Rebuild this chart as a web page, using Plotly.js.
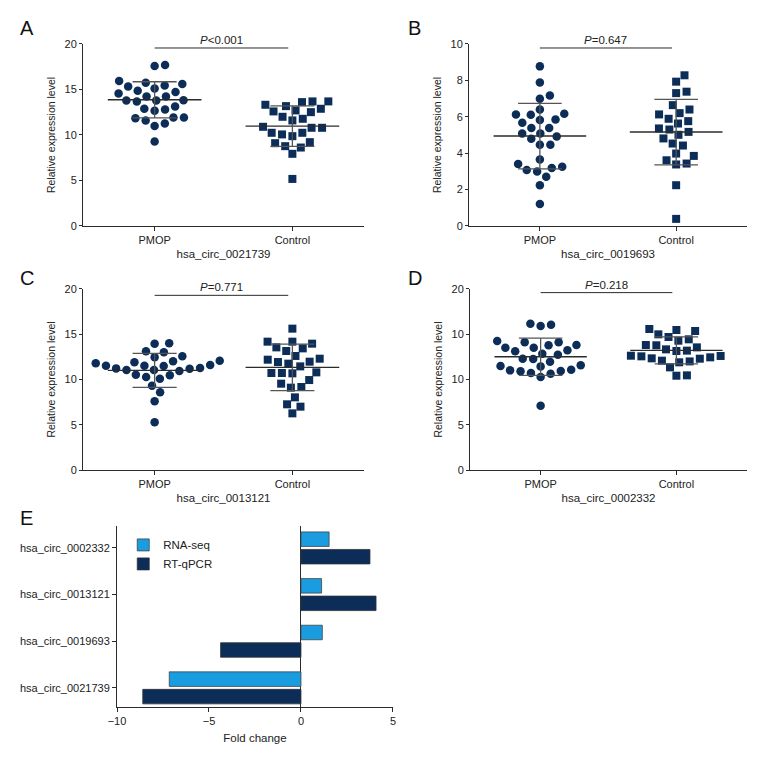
<!DOCTYPE html>
<html>
<head>
<meta charset="utf-8">
<script src="https://cdn.plot.ly/plotly-3.0.1.min.js"></script>
<style>html,body{margin:0;padding:0;background:#fff;}#chart{width:780px;height:780px;}</style>
</head>
<body>
<div id="chart"></div>
<script>
// ---------------- DATA ----------------
const groups = ['PMOP', 'Control'];
const circNames = ['hsa_circ_0021739', 'hsa_circ_0019693', 'hsa_circ_0013121', 'hsa_circ_0002332'];
const pValues = ['<i>P</i>&lt;0.001', '<i>P</i>=0.647', '<i>P</i>=0.771', '<i>P</i>=0.218'];

// Panel A: hsa_circ_0021739
const aPMOP = [17.69, 17.58, 15.74, 15.45, 15.12, 15.93, 15.6, 15.34, 14.86, 14.57, 14.72, 14.24, 14.24, 13.8,
  13.69, 13.8, 13.83, 12.88, 12.81, 13.14, 12.66, 11.93, 11.93, 11.85, 11.6, 11.27, 11.0, 9.28];
const aControl = [13.69, 13.69, 13.17, 12.7, 12.51, 12.59, 12.88, 13.32, 13.61, 12.0, 11.6, 11.78, 10.79, 10.79,
  10.9, 10.24, 10.06, 9.87, 10.24, 9.1, 9.21, 8.62, 8.77, 7.93, 5.17];
// Panel B: hsa_circ_0019693
const bPMOP = [8.77, 7.89, 7.17, 6.99, 6.4, 6.13, 6.17, 6.11, 5.85, 5.82, 5.67, 5.38, 5.39, 5.08, 5.08, 4.92,
  4.79, 4.46, 4.46, 3.65, 3.41, 3.19, 3.25, 3.08, 2.99, 2.7, 2.24, 1.21];
const bControl = [8.28, 7.93, 7.38, 7.3, 6.64, 6.4, 6.13, 6.2, 5.76, 5.63, 5.89, 5.36, 5.3, 5.17, 5.01, 4.81,
  4.53, 4.42, 3.98, 3.85, 3.61, 3.38, 3.43, 2.24, 0.39];
// Panel C: hsa_circ_0013121
const cPMOP = [14.0, 13.96, 13.0, 13.11, 12.45, 12.56, 12.01, 11.9, 12.08, 11.79, 11.6, 11.49, 11.53, 11.53,
  11.27, 11.2, 11.05, 10.94, 11.05, 11.23, 10.53, 10.28, 10.09, 10.46, 9.32, 8.58, 7.59, 5.27];
const cControl = [15.62, 14.18, 13.96, 14.18, 13.55, 13.44, 13.15, 12.6, 12.3, 12.19, 11.75, 11.93, 11.97, 11.45,
  10.72, 10.72, 10.79, 10.68, 9.94, 9.54, 9.1, 9.17, 8.03, 7.26, 7.0, 6.26];
// Panel D: hsa_circ_0002332
const dPMOP = [16.06, 15.91, 16.17, 14.11, 13.78, 13.52, 14.11, 13.81, 13.52, 14.25, 12.74, 13.11, 12.85, 13.22,
  12.27, 12.3, 11.97, 11.49, 11.45, 11.57, 11.01, 10.94, 11.09, 10.9, 10.64, 10.72, 10.28, 7.11];
const dControl = [15.58, 15.36, 15.47, 14.99, 14.7, 14.44, 14.29, 13.78, 13.81, 13.33, 13.15, 13.19, 13.55,
  12.56, 12.45, 12.3, 12.6, 12.63, 12.34, 12.0, 11.9, 12.08, 11.34, 10.42, 10.46];

// Mean and SD [PMOP, Control]
const aMean = [13.87, 10.97], aSD = [1.98, 2.22];
const bMean = [4.94, 5.16], bSD = [1.80, 1.80];
const cMean = [11.01, 11.34], cSD = [1.88, 2.56];
const dMean = [12.52, 13.22], dSD = [2.06, 1.49];

// y tick labels as printed in each panel
const yTicksA = [0, 5, 10, 15, 20], yTickTextA = ['0', '5', '10', '15', '20'];
const yTicksB = [0, 2, 4, 6, 8, 10], yTickTextB = ['0', '2', '4', '6', '8', '10'];
const yTicksC = [0, 5, 10, 15, 20], yTickTextC = ['0', '5', '10', '15', '20'];
const yTicksD = [0, 5, 10, 15, 20], yTickTextD = ['0', '5', '10', '10', '20'];

// Panel E: fold change
const eCategories = ['hsa_circ_0021739', 'hsa_circ_0019693', 'hsa_circ_0013121', 'hsa_circ_0002332'];
const eRNAseq = [-7.16, 1.16, 1.12, 1.53];
const eRTqPCR = [-8.6, -4.37, 4.08, 3.75];
const eXTicks = [-10, -5, 0, 5];

// ---------------- STYLE / LAYOUT ----------------
const FONT = "'Liberation Sans Narrow', 'Liberation Sans', Arial, sans-serif";
const NAVY = '#0b2d58';
const LIGHT = '#1a9de0';
const LINE = '#2b2b2b';
const W = 780, H = 780;
const TICKSIZE = 11;

const panels = [
  {key: 'A', pm: aPMOP, ct: aControl, mean: aMean, sd: aSD, yr: [0, 20], tv: yTicksA, tt: yTickTextA,
   xd: [0.1064, 0.4667], yd: [0.7103, 0.9436], sigY: 19.56},
  {key: 'B', pm: bPMOP, ct: bControl, mean: bMean, sd: bSD, yr: [0, 10], tv: yTicksB, tt: yTickTextB,
   xd: [0.6013, 0.9577], yd: [0.7103, 0.9436], sigY: 9.78},
  {key: 'C', pm: cPMOP, ct: cControl, mean: cMean, sd: cSD, yr: [0, 20], tv: yTicksC, tt: yTickTextC,
   xd: [0.1064, 0.4667], yd: [0.3974, 0.6295], sigY: 19.3},
  {key: 'D', pm: dPMOP, ct: dControl, mean: dMean, sd: dSD, yr: [0, 20], tv: yTicksD, tt: yTickTextD,
   xd: [0.6026, 0.9577], yd: [0.3974, 0.6295], sigY: 19.6}
];
const XR = [-0.52, 1.52];

// Beeswarm: place points (sorted by value) nearest to centre without overlap, in pixel space
function swarm(vals, pxY, pxX, D) {
  const idx = vals.map((v, i) => i).sort((a, b) => vals[a] - vals[b]);
  const placed = [];
  const xs = new Array(vals.length).fill(0);
  for (const i of idx) {
    const y = vals[i] * pxY;
    const cands = [0];
    for (const p of placed) {
      const dy = Math.abs(p.y - y);
      if (dy < D) { const dx = Math.sqrt(D * D - dy * dy); cands.push(p.x + dx, p.x - dx); }
    }
    cands.sort((a, b) => Math.abs(a) - Math.abs(b) || b - a);
    for (const c of cands) {
      if (placed.every(p => (p.x - c) ** 2 + (p.y - y) ** 2 >= D * D - 1e-6)) {
        xs[i] = c; placed.push({x: c, y: y}); break;
      }
    }
  }
  return xs.map(x => x / pxX);
}

const data = [];
const shapes = [];
const annotations = [];
const layout = {
  width: W, height: H,
  margin: {l: 0, r: 0, t: 0, b: 0},
  paper_bgcolor: '#fff', plot_bgcolor: '#fff',
  font: {family: FONT, color: '#222', size: 11},
  showlegend: true,
  shapes: shapes, annotations: annotations
};

panels.forEach((p, k) => {
  const n = k + 1;
  const xa = n === 1 ? 'x' : 'x' + n, ya = n === 1 ? 'y' : 'y' + n;
  const xkey = n === 1 ? 'xaxis' : 'xaxis' + n, ykey = n === 1 ? 'yaxis' : 'yaxis' + n;
  const pxX = (p.xd[1] - p.xd[0]) * W / (XR[1] - XR[0]);
  const pxY = (p.yd[1] - p.yd[0]) * H / (p.yr[1] - p.yr[0]);
  const D = 10.5;
  [p.pm, p.ct].forEach((vals, g) => {
    const off = swarm(vals, pxY, pxX, D);
    data.push({
      type: 'scatter', mode: 'markers', xaxis: xa, yaxis: ya, showlegend: false, hoverinfo: 'y',
      x: vals.map((v, i) => g + off[i]), y: vals,
      marker: {symbol: g === 0 ? 'circle' : 'square', size: g === 0 ? 8.5 : 8, color: NAVY,
               line: {width: 0}}
    });
    const m = p.mean[g], s = p.sd[g];
    // mean line
    data.push({type: 'scatter', mode: 'lines', xaxis: xa, yaxis: ya, showlegend: false, hoverinfo: 'skip',
      x: [g - 0.34, g + 0.34], y: [m, m], line: {color: LINE, width: 1.4}});
    // SD whiskers
    data.push({type: 'scatter', mode: 'lines', xaxis: xa, yaxis: ya, showlegend: false, hoverinfo: 'skip',
      x: [g - 0.16, g + 0.16, null, g, g, null, g - 0.16, g + 0.16],
      y: [m + s, m + s, null, m + s, m - s, null, m - s, m - s],
      line: {color: '#555', width: 1.3}});
  });
  layout[xkey] = {
    domain: p.xd, range: XR, anchor: ya, tickmode: 'array', tickvals: [0, 1], ticktext: groups,
    showline: true, linecolor: LINE, linewidth: 1, ticks: 'outside', ticklen: 4, tickcolor: LINE,
    showgrid: false, zeroline: false, tickfont: {size: TICKSIZE},
    title: {text: circNames[k], font: {size: 11.5}, standoff: 4}
  };
  layout[ykey] = {
    domain: p.yd, range: p.yr, anchor: xa, tickmode: 'array', tickvals: p.tv, ticktext: p.tt,
    showline: true, linecolor: LINE, linewidth: 1, ticks: 'outside', ticklen: 3, tickcolor: LINE,
    showgrid: false, zeroline: false, tickfont: {size: TICKSIZE},
    title: {text: 'Relative expression level', font: {size: 10.5}, standoff: 6}
  };
  // significance bar
  shapes.push({type: 'line', xref: xa, yref: ya, x0: 0, x1: 0.97, y0: p.sigY, y1: p.sigY,
    line: {color: LINE, width: 1}});
  annotations.push({xref: xa, yref: ya, x: 0.485, y: p.sigY, yanchor: 'bottom', xanchor: 'center',
    text: pValues[k], showarrow: false, font: {size: 11.5}, yshift: 0});
  // panel letter
  annotations.push({xref: 'paper', yref: 'paper', x: (k % 2 === 0 ? 18 : 406) / W,
    y: 1 - (k < 2 ? 15 : 265) / H, xanchor: 'left', yanchor: 'top', text: p.key, showarrow: false,
    font: {size: 20, color: '#111'}});
});

// Panel E bars (RT-qPCR first so it sits below RNA-seq in each pair)
data.push({type: 'bar', orientation: 'h', name: 'RT-qPCR', x: eRTqPCR, y: eCategories, xaxis: 'x5', yaxis: 'y5',
  marker: {color: NAVY, line: {color: '#333', width: 0.8}}});
data.push({type: 'bar', orientation: 'h', name: 'RNA-seq', x: eRNAseq, y: eCategories, xaxis: 'x5', yaxis: 'y5',
  marker: {color: LIGHT, line: {color: '#444', width: 0.8}}});
layout.barmode = 'group';
layout.bargap = 0.25;
layout.bargroupgap = 0.17;
layout.xaxis5 = {
  domain: [0.15, 0.5038], range: [-10, 5], anchor: 'y5', tickmode: 'array', tickvals: eXTicks,
  showline: true, linecolor: LINE, linewidth: 1, ticks: 'outside', ticklen: 4, tickcolor: LINE,
  showgrid: false, zeroline: true, zerolinecolor: LINE, zerolinewidth: 1, tickfont: {size: TICKSIZE},
  title: {text: 'Fold change', font: {size: 11.5}, standoff: 7}
};
layout.yaxis5 = {
  domain: [0.0936, 0.3256], type: 'category', categoryorder: 'array', categoryarray: eCategories,
  range: [-0.41, 3.47], anchor: 'x5', showline: true, linecolor: LINE, linewidth: 1,
  ticks: 'outside', ticklen: 4, tickcolor: LINE, showgrid: false, zeroline: false, tickfont: {size: TICKSIZE}
};
layout.legend = {x: 0.158, y: 0.32, xanchor: 'left', yanchor: 'top', traceorder: 'reversed',
  bgcolor: 'rgba(0,0,0,0)', font: {size: 11.5}, tracegroupgap: 0, itemwidth: 30};
annotations.push({xref: 'paper', yref: 'paper', x: 18 / W, y: 1 - 505 / H, xanchor: 'left', yanchor: 'top',
  text: 'E', showarrow: false, font: {size: 20, color: '#111'}});

Plotly.newPlot('chart', data, layout, {displayModeBar: false, staticPlot: true});
</script>
</body>
</html>
